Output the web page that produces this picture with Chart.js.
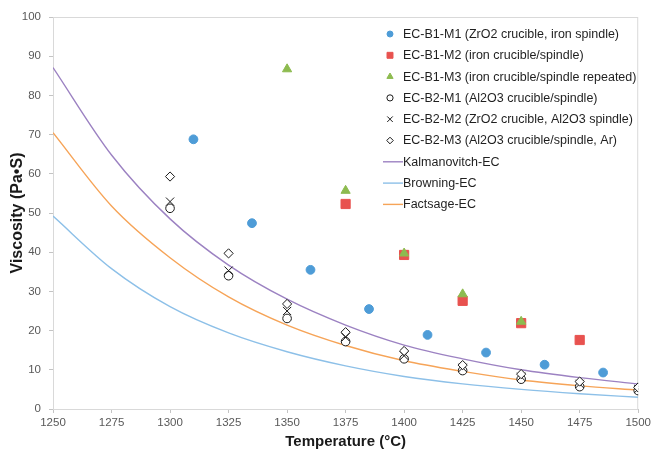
<!DOCTYPE html>
<html>
<head>
<meta charset="utf-8">
<script src="https://cdn.jsdelivr.net/npm/chart.js@4/dist/chart.umd.min.js"></script>
<style>
  body { margin: 0; background: #fff; }
  #wrap { width: 654px; height: 451px; }
</style>
</head>
<body>
<div id="wrap"><canvas id="chart" width="654" height="451"></canvas></div>
<script>
// measured points (temperature in °C, viscosity in Pa·s)
const tempsB1M1 = [1310, 1335, 1360, 1385, 1410, 1435, 1460, 1485];
const viscB1M1 = [68.8, 47.4, 35.5, 25.5, 18.9, 14.4, 11.3, 9.3];

const tempsB1M2 = [1375, 1400, 1425, 1450, 1475];
const viscB1M2 = [52.3, 39.3, 27.6, 21.9, 17.6];

const tempsB1M3 = [1350, 1375, 1400, 1425, 1450];
const viscB1M3 = [86.7, 55.7, 39.7, 29.3, 22.3];

const tempsB2 = [1300, 1325, 1350, 1375, 1400, 1425, 1450, 1475, 1500];
const viscB2M1 = [51.2, 34.0, 23.1, 17.2, 12.8, 9.8, 7.6, 5.7, 4.7];
const viscB2M2 = [52.9, 35.3, 25.0, 18.3, 13.6, 10.5, 8.2, 6.4, 5.1];
const viscB2M3 = [59.3, 39.7, 26.8, 19.6, 14.8, 11.2, 8.9, 7.0, 5.5];

// model curves
const modelTemps = [1250, 1275, 1300, 1325, 1350, 1375, 1400, 1425, 1450, 1475, 1500];
const kalmanovitch = [87.1, 64.8, 48.5, 36.7, 28.0, 21.4, 16.3, 12.8, 10.0, 8.0, 6.4];
const browning = [49.2, 35.8, 26.1, 19.4, 14.6, 11.0, 8.3, 6.4, 5.0, 3.9, 3.0];
const factsage = [70.5, 51.8, 38.6, 28.6, 21.4, 16.2, 12.3, 9.6, 7.4, 5.9, 4.8];

const xTicks = [1250, 1275, 1300, 1325, 1350, 1375, 1400, 1425, 1450, 1475, 1500];
const yTicks = [0, 10, 20, 30, 40, 50, 60, 70, 80, 90, 100];

const FONT = '"Liberation Sans", Arial, sans-serif';

const pts = (xs, ys) => xs.map((x, i) => ({ x, y: ys[i] }));

const markerSet = (label, xs, ys, style, fill, stroke, radius, legendRadius, order) => ({
  label,
  data: pts(xs, ys),
  pointStyle: style,
  pointRadius: radius,
  pointHoverRadius: radius,
  pointBackgroundColor: fill,
  pointBorderColor: stroke,
  pointBorderWidth: 1,
  showLine: false,
  legendRadius,
  order,
});

const curveSet = (label, ys, color) => ({
  label,
  data: pts(modelTemps, ys),
  showLine: true,
  borderColor: color,
  borderWidth: 1.4,
  pointRadius: 0,
  cubicInterpolationMode: 'monotone',
  isCurve: true,
  order: 20,
});

// legend drawn inside the plot, top right, like the original
const insideLegend = {
  id: 'insideLegend',
  afterDraw(chart) {
    const ctx = chart.ctx;
    const x0 = 390, textX = 403, y0 = 34, step = 21.3;
    ctx.save();
    ctx.font = '12.5px ' + FONT;
    ctx.textBaseline = 'middle';
    chart.data.datasets.forEach((ds, i) => {
      const y = y0 + i * step;
      if (ds.isCurve) {
        ctx.strokeStyle = ds.borderColor;
        ctx.lineWidth = 1.4;
        ctx.beginPath();
        ctx.moveTo(383, y);
        ctx.lineTo(403, y);
        ctx.stroke();
      } else {
        ctx.fillStyle = ds.pointBackgroundColor;
        ctx.strokeStyle = ds.pointBorderColor;
        ctx.lineWidth = 1;
        Chart.helpers.drawPoint(ctx, {
          pointStyle: ds.pointStyle,
          radius: ds.legendRadius,
          rotation: 0,
          borderWidth: 1,
        }, x0, y);
      }
      ctx.fillStyle = '#1f1f1f';
      ctx.fillText(ds.label, textX, y + 0.5);
    });
    ctx.restore();
  },
};

// light frame round the plot area
const plotFrame = {
  id: 'plotFrame',
  beforeDatasetsDraw(chart) {
    const { ctx, chartArea: a } = chart;
    ctx.save();
    ctx.strokeStyle = '#d9d9d9';
    ctx.lineWidth = 1;
    ctx.strokeRect(a.left + 0.5, a.top + 0.5, a.right - a.left - 1, a.bottom - a.top);
    ctx.restore();
  },
};

new Chart(document.getElementById('chart'), {
  type: 'scatter',
  data: {
    datasets: [
      markerSet('EC-B1-M1 (ZrO2 crucible, iron spindle)', tempsB1M1, viscB1M1, 'circle', '#4e9cd7', '#4e9cd7', 4.4, 3, 9),
      markerSet('EC-B1-M2 (iron crucible/spindle)', tempsB1M2, viscB1M2, 'rect', '#e8524f', '#e8524f', 6.5, 4.2, 8),
      markerSet('EC-B1-M3 (iron crucible/spindle repeated)', tempsB1M3, viscB1M3, 'triangle', '#8dbb4f', '#8dbb4f', 5.3, 3.6, 7),
      markerSet('EC-B2-M1 (Al2O3 crucible/spindle)', tempsB2, viscB2M1, 'circle', '#ffffff', '#1a1a1a', 4.3, 3.1, 6),
      markerSet('EC-B2-M2 (ZrO2 crucible, Al2O3 spindle)', tempsB2, viscB2M2, 'crossRot', '#1a1a1a', '#1a1a1a', 5.8, 3.9, 5),
      markerSet('EC-B2-M3 (Al2O3 crucible/spindle, Ar)', tempsB2, viscB2M3, 'rectRot', '#ffffff', '#1a1a1a', 4.6, 3.3, 4),
      curveSet('Kalmanovitch-EC', kalmanovitch, '#9c82c2'),
      curveSet('Browning-EC', browning, '#8dc0e8'),
      curveSet('Factsage-EC', factsage, '#f6a458'),
    ],
  },
  options: {
    responsive: false,
    animation: false,
    devicePixelRatio: 1,
    layout: { padding: { top: 17, right: 15, left: 0, bottom: 0 } },
    plugins: {
      legend: { display: false },
      tooltip: { enabled: false },
    },
    scales: {
      x: {
        type: 'linear',
        min: 1250,
        max: 1500,
        afterBuildTicks: (scale) => { scale.ticks = xTicks.map(v => ({ value: v })); },
        afterFit: (scale) => { scale.height = 42; },
        grid: { drawOnChartArea: false, drawTicks: true, tickLength: 4, color: '#c4c4c4' },
        border: { color: '#c4c4c4' },
        ticks: {
          color: '#595959',
          font: { family: FONT, size: 11.5 },
          padding: 3,
          maxRotation: 0,
          callback: (v) => String(v),
        },
        title: {
          display: true,
          text: 'Temperature (°C)',
          color: '#1a1a1a',
          font: { family: FONT, size: 15, weight: 'bold' },
          padding: { top: 0, bottom: 0 },
        },
      },
      y: {
        min: 0,
        max: 100,
        afterBuildTicks: (scale) => { scale.ticks = yTicks.map(v => ({ value: v })); },
        afterFit: (scale) => { scale.width = 53; },
        grid: { drawOnChartArea: false, drawTicks: true, tickLength: 4, color: '#c4c4c4' },
        border: { color: '#c4c4c4' },
        ticks: { color: '#595959', font: { family: FONT, size: 11.5 }, padding: 8 },
        title: {
          display: true,
          text: 'Viscosity (Pa•S)',
          color: '#1a1a1a',
          font: { family: FONT, size: 16, weight: 'bold' },
          padding: { top: 8, bottom: 0 },
        },
      },
    },
  },
  plugins: [plotFrame, insideLegend],
});
</script>
</body>
</html>
